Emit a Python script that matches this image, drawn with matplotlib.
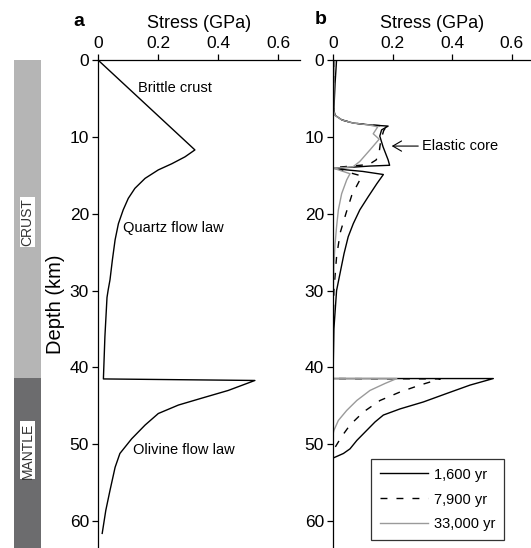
import numpy as np
import matplotlib.pyplot as plt

plt.rcParams['font.family'] = ['Liberation Sans', 'DejaVu Sans']

# Panel a: single strength envelope (stress in GPa, depth in km)
stress_a = [0.0, 0.323, 0.29, 0.246, 0.201, 0.157, 0.123, 0.101, 0.084, 0.068, 0.057,
            0.048, 0.04, 0.034, 0.03, 0.023, 0.018,
            0.523, 0.434, 0.346, 0.268, 0.201, 0.157, 0.112, 0.073, 0.057, 0.04,
            0.026, 0.014]
depth_a = [0.0, 11.7, 12.6, 13.5, 14.3, 15.4, 16.7, 18.0, 19.5, 21.3, 23.4,
           26.0, 28.6, 29.9, 30.9, 36.0, 41.5,
           41.7, 43.0, 44.0, 44.9, 46.0, 47.5, 49.3, 51.2, 53.0, 56.0,
           58.6, 61.6]

# Panel b: stress profiles at three times after loading
stress_1600 = [0.012, 0.007, 0.003, 0.007, 0.03, 0.067, 0.124, 0.185, 0.163, 0.157, 0.168,
               0.185, 0.19, 0.124, 0.003, 0.046, 0.1, 0.169, 0.147, 0.118, 0.09, 0.068,
               0.051, 0.037, 0.026, 0.012, 0.003, 0.0,
               0.538, 0.46, 0.381, 0.303, 0.225, 0.169, 0.141, 0.113, 0.08, 0.057,
               0.035, 0.0]
depth_1600 = [0, 3, 6.5, 7.2, 7.8, 8.2, 8.45, 8.6, 9.1, 9.9, 11.3,
              13.0, 13.7, 13.8, 14.1, 14.3, 14.5, 14.9, 16.1, 17.8, 19.5, 21.3,
              23.0, 25.2, 27.3, 30.0, 35, 41.45,
              41.45, 42.3, 43.4, 44.5, 45.4, 46.2, 47.1, 48.2, 49.5, 50.6,
              51.2, 51.8]

stress_7900 = [0.005, 0.003, 0.002, 0.006, 0.03, 0.067, 0.124, 0.18, 0.17, 0.16, 0.155,
               0.145, 0.12, 0.003, 0.05, 0.097, 0.063, 0.044, 0.024, 0.012, 0.003, 0.0,
               0.0, 0.36, 0.292, 0.225, 0.158, 0.102, 0.057, 0.029, 0.007, 0.0]
depth_7900 = [0, 3, 6.5, 7.2, 7.8, 8.2, 8.45, 8.6, 9.2, 10.5, 12.0,
              13.0, 13.6, 14.0, 14.6, 15.1, 17.6, 19.9, 22.5, 25.6, 30, 35,
              41.45, 41.5, 42.3, 43.2, 44.3, 45.8, 47.5, 49.0, 50.4, 50.8]

stress_33000 = [0.004, 0.003, 0.002, 0.006, 0.03, 0.067, 0.12, 0.15, 0.135, 0.155, 0.124,
                0.09, 0.067, 0.003, 0.057, 0.046, 0.029, 0.018, 0.012, 0.007, 0.003,
                0.001, 0.0,
                0.214, 0.174, 0.124, 0.08, 0.046, 0.018, 0.003, 0.0]
depth_33000 = [0, 3, 6.5, 7.2, 7.8, 8.2, 8.45, 8.7, 9.6, 10.3, 11.7,
               13.2, 13.9, 14.1, 14.8, 15.6, 17.4, 19.5, 21.7, 23.9, 26.5,
               30, 41.45,
               41.45, 42.1, 43.0, 44.3, 45.6, 46.9, 48.2, 48.7]

moho = 41.4
depth_max = 63.5
xticks = [0, 0.2, 0.4, 0.6]
xtick_labels = ['0', '0.2', '0.4', '0.6']
yticks = [0, 10, 20, 30, 40, 50, 60]

fig = plt.figure(figsize=(5.31, 5.48), dpi=100)
W, H = 531.0, 548.0
top = 488 / H

ax_a = fig.add_axes([98 / W, 0, 202 / W, top])
ax_b = fig.add_axes([333 / W, 0, 198 / W, top])
ax_bar = fig.add_axes([14 / W, 0, 27 / W, top], sharey=ax_a)

# crust / mantle column
ax_bar.bar(0, moho, bottom=0, width=1, color='#b5b5b5')
ax_bar.bar(0, depth_max - moho, bottom=moho, width=1, color='#6c6c6e')
ax_bar.set_xlim(-0.5, 0.5)
ax_bar.axis('off')
ax_bar.text(0, 21.1, 'CRUST', rotation=90, ha='center', va='center', fontsize=10,
            color='#333333', bbox=dict(facecolor='white', edgecolor='none', pad=0.6))
ax_bar.text(0, 50.8, 'MANTLE', rotation=90, ha='center', va='center', fontsize=10,
            color='#333333', bbox=dict(facecolor='white', edgecolor='none', pad=0.6))

for ax, xmax in [(ax_a, 202 / 300), (ax_b, 198 / 298)]:
    ax.set_xlim(0, xmax)
    ax.set_ylim(depth_max, 0)
    ax.xaxis.tick_top()
    ax.xaxis.set_label_position('top')
    ax.set_xticks(xticks)
    ax.set_xticklabels(xtick_labels)
    ax.set_yticks(yticks)
    ax.spines['right'].set_visible(False)
    ax.spines['bottom'].set_visible(False)
    ax.spines['top'].set_linewidth(0.9)
    ax.spines['left'].set_linewidth(0.9)
    ax.tick_params(labelsize=12.5, length=4.5, width=0.9, pad=2)
    ax.set_xlabel('Stress (GPa)', fontsize=13, labelpad=6)

ax_a.set_ylabel('Depth (km)', fontsize=14.5, labelpad=3)

# panel a
ax_a.plot(stress_a, depth_a, color='black', lw=1)
ax_a.text(0.133, 3.6, 'Brittle crust', fontsize=10.5, va='center')
ax_a.text(0.083, 21.9, 'Quartz flow law', fontsize=10.5, va='center')
ax_a.text(0.117, 50.8, 'Olivine flow law', fontsize=10.5, va='center')

# panel b
ax_b.plot(stress_1600, depth_1600, color='black', lw=1, label='1,600 yr')
ax_b.plot(stress_7900, depth_7900, color='black', lw=1, dashes=(5, 6.5), label='7,900 yr')
ax_b.plot(stress_33000, depth_33000, color='#9a9a9a', lw=1, label='33,000 yr')
ax_b.annotate('Elastic core', xy=(0.197, 11.2), xytext=(0.3, 11.2), fontsize=10.5,
              va='center', ha='left',
              arrowprops=dict(arrowstyle='->,head_length=0.6,head_width=0.35', lw=0.8,
                              shrinkA=1, shrinkB=0))
leg = ax_b.legend(loc='lower right', bbox_to_anchor=(0.864, 0.016), fontsize=10.5,
                  frameon=True, fancybox=False, edgecolor='black', handlelength=3.3,
                  handletextpad=0.4, labelspacing=0.75, borderpad=0.6, borderaxespad=0)
leg.get_frame().set_linewidth(0.9)

fig.text(79 / W, 1 - 21 / H, 'a', fontsize=14, fontweight='bold', ha='center', va='center')
fig.text(321 / W, 1 - 20 / H, 'b', fontsize=14, fontweight='bold', ha='center', va='center')

fig.savefig('out.png', dpi=100)
